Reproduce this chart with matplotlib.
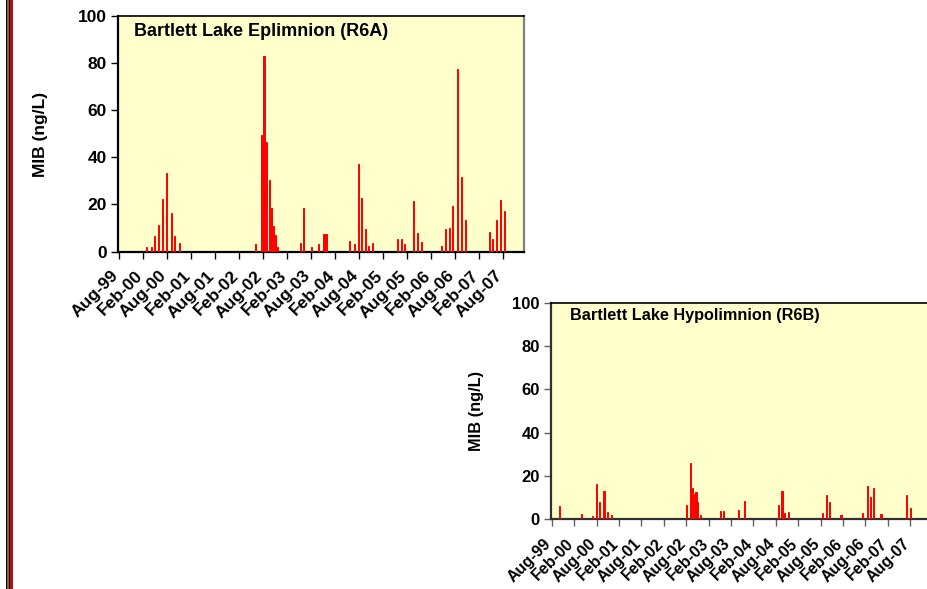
import matplotlib
matplotlib.use("Agg")
import matplotlib.pyplot as plt
import matplotlib.dates as mdates
import matplotlib.transforms as mtrans
from matplotlib.patches import Rectangle
import datetime as dt

plt.rcParams['font.family'] = ['Liberation Sans', 'DejaVu Sans']
plt.rcParams['font.weight'] = 'bold'

# ---------------- data ----------------
epi_dates = ["2000-03-01", "2000-04-08", "2000-05-01", "2000-05-31", "2000-07-01",
             "2000-07-31", "2000-09-07", "2000-09-30", "2000-11-07",
             "2002-06-08", "2002-07-23", "2002-08-12", "2002-08-27", "2002-09-22",
             "2002-10-07", "2002-10-20", "2002-11-07", "2002-11-19",
             "2003-05-16", "2003-06-08", "2003-08-08", "2003-09-30", "2003-11-12",
             "2003-11-25",
             "2004-05-23", "2004-06-30", "2004-07-30", "2004-08-22", "2004-09-21",
             "2004-10-14", "2004-11-13",
             "2005-05-23", "2005-06-22", "2005-07-15", "2005-09-21", "2005-10-22",
             "2005-11-21",
             "2006-04-22", "2006-05-23", "2006-06-22", "2006-07-15", "2006-08-22",
             "2006-09-21", "2006-10-22",
             "2007-04-22", "2007-05-15", "2007-06-14", "2007-07-15", "2007-08-14"]
epi_mib = [2.0, 2.0, 6.6, 11.3, 22.3,
           33.4, 16.4, 6.6, 3.7,
           3.3, 49.4, 82.9, 46.5, 30.4,
           18.5, 10.9, 7.1, 2.0,
           3.7, 18.5, 2.0, 3.3, 7.5,
           7.5,
           4.5, 3.3, 37.1, 22.8, 9.6,
           2.4, 3.7,
           5.3, 5.3, 3.3, 21.5, 7.9,
           4.1,
           2.4, 9.6, 10.0, 19.4, 77.4,
           31.6, 13.4,
           8.3, 5.3, 13.4, 21.9, 17.2]

hypo_dates = ["1999-10-05", "2000-04-02", "2000-06-30", "2000-08-02", "2000-08-26",
              "2000-09-30", "2000-10-30", "2000-12-02",
              "2002-08-05", "2002-09-07", "2002-09-20", "2002-10-06", "2002-10-20",
              "2002-10-31", "2002-11-27",
              "2003-05-09", "2003-06-03", "2003-10-01", "2003-11-21",
              "2004-08-24", "2004-09-22", "2004-10-12", "2004-11-14",
              "2005-08-18", "2005-09-16", "2005-10-14", "2006-01-14",
              "2006-07-10", "2006-08-19", "2006-09-13", "2006-10-07", "2006-12-06",
              "2007-07-03", "2007-08-05"]
hypo_mib = [6.1, 2.5, 1.5, 16.3, 8.0,
            13.1, 3.3, 2.0,
            6.6, 26.0, 14.5, 11.7, 12.6,
            8.0, 2.0,
            3.8, 3.8, 4.3, 8.5,
            6.6, 13.1, 3.0, 3.3,
            3.0, 11.2, 8.0, 2.0,
            3.0, 15.3, 10.3, 14.5, 2.5,
            11.2, 5.2]

tick_dates = ["1999-08-01", "2000-02-01", "2000-08-01", "2001-02-01", "2001-08-01",
              "2002-02-01", "2002-08-01", "2003-02-01", "2003-08-01", "2004-02-01",
              "2004-08-01", "2005-02-01", "2005-08-01", "2006-02-01", "2006-08-01",
              "2007-02-01", "2007-08-01"]
tick_labels = ["Aug-99", "Feb-00", "Aug-00", "Feb-01", "Aug-01", "Feb-02", "Aug-02",
               "Feb-03", "Aug-03", "Feb-04", "Aug-04", "Feb-05", "Aug-05", "Feb-06",
               "Aug-06", "Feb-07", "Aug-07"]
y_ticks = [0, 20, 40, 60, 80, 100]

title_epi = "Bartlett Lake Eplimnion (R6A)"
title_hypo = "Bartlett Lake Hypolimnion (R6B)"
ylabel = "MIB (ng/L)"

# ---------------- figure ----------------
W, H = 927, 589
fig = plt.figure(figsize=(W / 100, H / 100), dpi=100)
fig.patch.set_facecolor("white")

# decorative left stripes
for x0, w, c in [(5.5, 1.5, "#000000"), (7.0, 2.0, "#8a6d00"), (9.0, 1.0, "#1a0a00"),
                 (10.0, 2.5, "#b0102a")]:
    fig.add_artist(Rectangle((x0 / W, 0), w / W, 1, transform=fig.transFigure,
                             facecolor=c, edgecolor="none"))

def to_num(lst):
    return mdates.date2num([dt.datetime.strptime(s, "%Y-%m-%d") for s in lst])

xmin = mdates.date2num(dt.datetime(1999, 7, 27))
xmax = mdates.date2num(dt.datetime(2008, 1, 10))

def panel(rect, dates, vals, title, title_pos, spine_col, tick_col,
          fs_y, fs_x, fs_title):
    ax = fig.add_axes(rect)
    ax.set_facecolor("#ffffcc")
    ax.bar(to_num(dates), vals, width=11, color="#ff0000", edgecolor="#ff0000",
           linewidth=0.7, align="center", zorder=3)
    ax.set_xlim(xmin, xmax)
    ax.set_ylim(0, 100)
    ax.set_yticks(y_ticks)
    ax.set_yticklabels([str(v) for v in y_ticks], fontsize=fs_y, fontweight="bold")
    ax.set_xticks(to_num(tick_dates))
    ax.set_xticklabels(tick_labels, fontsize=fs_x, fontweight="bold", rotation=45,
                       ha="right", rotation_mode="anchor")
    ax.tick_params(axis="both", direction="out", length=5, width=1, color=tick_col,
                   pad=3)
    ax.tick_params(axis="x", pad=7)
    off = mtrans.ScaledTranslation(-8 / 100, 0, fig.dpi_scale_trans)
    for lab in ax.get_xticklabels():
        lab.set_transform(lab.get_transform() + off)
    for s in ["left", "bottom"]:
        ax.spines[s].set_color(spine_col)
        ax.spines[s].set_linewidth(1.6)
    ax.spines["top"].set_color("#000000")
    ax.spines["top"].set_linewidth(1.2)
    ax.spines["right"].set_color("#808080")
    ax.spines["right"].set_linewidth(1.6)
    ax.text(title_pos[0], title_pos[1], title, transform=ax.transAxes,
            fontsize=fs_title, fontweight="bold", ha="left", va="center")
    return ax

top_rect = [118 / W, (H - 251.5) / H, 406 / W, 235.8 / H]
bot_rect = [551 / W, (H - 519.3) / H, 379 / W, 216.6 / H]

ax1 = panel(top_rect, epi_dates, epi_mib, title_epi, (0.039, 0.931), "#000000", "#000000",
            12.5, 12.5, 13)
ax2 = panel(bot_rect, hypo_dates, hypo_mib, title_hypo, (0.050, 0.939), "#303030", "#606060",
            12, 11.5, 11.7)

fig.text(40 / W, 1 - 134 / H, ylabel, rotation=90, fontsize=12.5, fontweight="bold",
         ha="center", va="center")
fig.text(477 / W, 1 - 411 / H, ylabel, rotation=90, fontsize=11.8, fontweight="bold",
         ha="center", va="center")

fig.savefig("out.png", dpi=100)
